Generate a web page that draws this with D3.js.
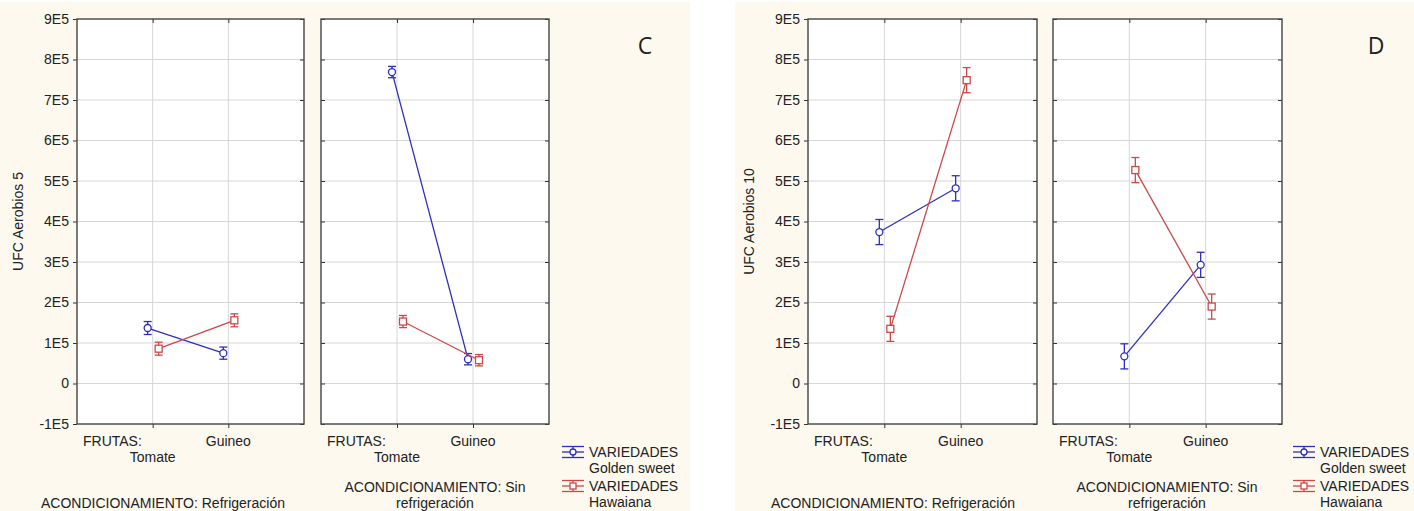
<!DOCTYPE html>
<html>
<head>
<meta charset="utf-8">
<script src="https://cdnjs.cloudflare.com/ajax/libs/d3/7.8.5/d3.min.js"></script>
<style>
  body { margin: 0; background: #fff; }
  svg { display: block; }
  text { font-family: "Liberation Sans", Arial, sans-serif; fill: #222; }
</style>
</head>
<body>
<script>
// categories
const frutas = ["Tomate", "Guineo"];
const variedades = ["Golden sweet", "Hawaiana"];
const yTicks = [-100000, 0, 100000, 200000, 300000, 400000, 500000, 600000, 700000, 800000, 900000];

// C - Aerobios 5 (means and error half-widths, Tomate / Guineo)
const cRefGolden = [137000, 75000];
const cRefGoldenErr = [16000, 15000];
const cRefHawaiana = [86000, 156000];
const cRefHawaianaErr = [16000, 16000];
const cSinGolden = [769000, 60000];
const cSinGoldenErr = [14000, 14000];
const cSinHawaiana = [153000, 57500];
const cSinHawaianaErr = [15000, 14000];

// D - Aerobios 10
const dRefGolden = [374000, 482000];
const dRefGoldenErr = [31000, 31000];
const dRefHawaiana = [135000, 749000];
const dRefHawaianaErr = [31000, 31000];
const dSinGolden = [67000, 293000];
const dSinGoldenErr = [31000, 31000];
const dSinHawaiana = [527000, 190000];
const dSinHawaianaErr = [31000, 31000];

const W = 1414, H = 511;
const FS = "14px";
const blue = "#2e2ebf", red = "#cc4848";
const colors = [blue, red];
const offs = [-5, 6];

const svg = d3.select("body").append("svg")
  .attr("width", W).attr("height", H);

const y = d3.scaleLinear().domain([-100000, 900000]).range([424, 19]);
const fmt = d => d === 0 ? "0" : Math.round(d / 100000) + "E5";

function drawChart(ox, cream, letter, ylabel, panels) {
  svg.append("rect")
    .attr("x", cream[0]).attr("y", 2)
    .attr("width", cream[1] - cream[0]).attr("height", H - 2)
    .attr("fill", "#fdf9ef");

  panels.forEach((p, pi) => {
    const x0 = ox + p.x0, x1 = ox + p.x1;
    const x = d3.scalePoint().domain(frutas).range([x0, x1]).padding(1);

    svg.append("rect")
      .attr("x", x0).attr("y", y(900000))
      .attr("width", x1 - x0).attr("height", y(-100000) - y(900000))
      .attr("fill", "#fff");

    // grid
    svg.append("g").selectAll("line").data(yTicks.slice(1, -1)).join("line")
      .attr("x1", x0).attr("x2", x1)
      .attr("y1", d => y(d)).attr("y2", d => y(d))
      .attr("stroke", "#d6d6d6");
    svg.append("g").selectAll("line").data(frutas).join("line")
      .attr("x1", d => x(d)).attr("x2", d => x(d))
      .attr("y1", y(900000)).attr("y2", y(-100000))
      .attr("stroke", "#d6d6d6");

    // y axes (ticks on both sides)
    const yl = svg.append("g").attr("transform", `translate(${x0},0)`)
      .call(d3.axisLeft(y).tickValues(yTicks).tickFormat(pi === 0 ? fmt : "")
        .tickSize(pi === 0 ? 4 : -4).tickPadding(pi === 0 ? 4 : 8));
    const yr = svg.append("g").attr("transform", `translate(${x1},0)`)
      .call(d3.axisRight(y).tickValues(yTicks).tickFormat("").tickSize(-4));
    const xt = svg.append("g").attr("transform", `translate(0,${y(900000)})`)
      .call(d3.axisTop(x).tickFormat("").tickSize(-4));
    const xb = svg.append("g").attr("transform", `translate(0,${y(-100000)})`)
      .call(d3.axisBottom(x).tickFormat("").tickSize(4));
    [yl, yr, xt, xb].forEach(g => {
      g.select(".domain").remove();
      g.selectAll(".tick line").attr("stroke", "#333");
      g.selectAll("text").style("font-size", FS).attr("fill", "#222");
    });

    svg.append("rect")
      .attr("x", x0).attr("y", y(900000))
      .attr("width", x1 - x0).attr("height", y(-100000) - y(900000))
      .attr("fill", "none").attr("stroke", "#444").attr("stroke-width", 1.4);

    // series
    p.series.forEach((s, si) => {
      const pts = frutas.map((f, i) => ({ cx: x(f) + offs[si], m: s.mean[i], e: s.err[i] }));
      const c = colors[si];
      svg.append("path")
        .attr("d", d3.line().x(d => d.cx).y(d => y(d.m))(pts))
        .attr("fill", "none").attr("stroke", c).attr("stroke-width", 1.3);
      const g = svg.append("g").attr("stroke", c).attr("stroke-width", 1.3);
      pts.forEach(d => {
        g.append("line").attr("x1", d.cx).attr("x2", d.cx)
          .attr("y1", y(d.m + d.e)).attr("y2", y(d.m - d.e));
        [d.m + d.e, d.m - d.e].forEach(v => g.append("line")
          .attr("x1", d.cx - 4).attr("x2", d.cx + 4)
          .attr("y1", y(v)).attr("y2", y(v)));
        if (si === 0) {
          g.append("circle").attr("cx", d.cx).attr("cy", y(d.m)).attr("r", 3.5)
            .attr("fill", "#fff");
        } else {
          g.append("rect").attr("x", d.cx - 3.5).attr("y", y(d.m) - 3.5)
            .attr("width", 7).attr("height", 7).attr("fill", "#fff");
        }
      });
    });

    // x labels
    svg.append("text").attr("x", x0 + 6).attr("y", 446).style("font-size", FS).text("FRUTAS:");
    svg.append("text").attr("x", x(frutas[0])).attr("y", 462).attr("text-anchor", "middle")
      .style("font-size", FS).text(frutas[0]);
    svg.append("text").attr("x", x(frutas[1])).attr("y", 446).attr("text-anchor", "middle")
      .style("font-size", FS).text(frutas[1]);
    p.cond.forEach((t, ti) => {
      svg.append("text").attr("x", ox + p.condX).attr("y", p.condY + ti * 15.5)
        .attr("text-anchor", "middle").style("font-size", FS).text(t);
    });
  });

  // y label
  const ly = (y(900000) + y(-100000)) / 2;
  svg.append("text")
    .attr("transform", `translate(${ox + 23},${ly}) rotate(-90)`)
    .attr("text-anchor", "middle").style("font-size", FS).text(ylabel);

  // letter
  svg.append("text").attr("x", ox + 645).attr("y", 54).attr("text-anchor", "middle")
    .style("font-family", "'Open Sans', sans-serif").style("font-size", "23px")
    .attr("fill", "#111").text(letter);

  // legend
  variedades.forEach((v, i) => {
    const cy = 452 + i * 34;
    const lx = ox + 562;
    const g = svg.append("g").attr("stroke", colors[i]).attr("stroke-width", 1.3);
    [-5.5, 0, 5.5].forEach(dy => g.append("line")
      .attr("x1", lx).attr("x2", lx + 22).attr("y1", cy + dy).attr("y2", cy + dy));
    g.append("line").attr("x1", lx + 11).attr("x2", lx + 11).attr("y1", cy - 5.5).attr("y2", cy + 5.5);
    if (i === 0) g.append("circle").attr("cx", lx + 11).attr("cy", cy).attr("r", 3).attr("fill", "#fff");
    else g.append("rect").attr("x", lx + 8).attr("y", cy - 3).attr("width", 6).attr("height", 6).attr("fill", "#fff");
    svg.append("text").attr("x", lx + 27).attr("y", cy + 4.5).style("font-size", FS).text("VARIEDADES");
    svg.append("text").attr("x", lx + 27).attr("y", cy + 21).style("font-size", FS).text(v);
  });
}

drawChart(0, [0, 690], "C", "UFC Aerobios 5", [
  { x0: 77, x1: 304, condX: 163, condY: 508, cond: ["ACONDICIONAMIENTO: Refrigeración"],
    series: [{ mean: cRefGolden, err: cRefGoldenErr }, { mean: cRefHawaiana, err: cRefHawaianaErr }] },
  { x0: 321, x1: 549, condX: 435, condY: 492, cond: ["ACONDICIONAMIENTO: Sin", "refrigeración"],
    series: [{ mean: cSinGolden, err: cSinGoldenErr }, { mean: cSinHawaiana, err: cSinHawaianaErr }] }
]);

drawChart(731, [735, 1414], "D", "UFC Aerobios 10", [
  { x0: 77, x1: 306, condX: 162, condY: 508, cond: ["ACONDICIONAMIENTO: Refrigeración"],
    series: [{ mean: dRefGolden, err: dRefGoldenErr }, { mean: dRefHawaiana, err: dRefHawaianaErr }] },
  { x0: 322, x1: 551, condX: 436, condY: 492, cond: ["ACONDICIONAMIENTO: Sin", "refrigeración"],
    series: [{ mean: dSinGolden, err: dSinGoldenErr }, { mean: dSinHawaiana, err: dSinHawaianaErr }] }
]);
</script>
</body>
</html>
